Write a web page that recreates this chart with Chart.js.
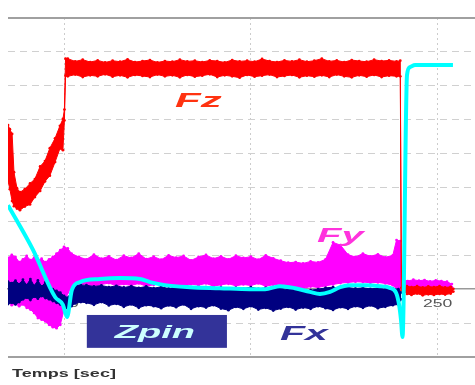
<!DOCTYPE html>
<html>
<head>
<meta charset="utf-8">
<script src="https://cdn.jsdelivr.net/npm/chart.js@4.4.1/dist/chart.umd.min.js"></script>
<style>
  html, body { margin: 0; padding: 0; background: #fff; }
</style>
</head>
<body>
<canvas id="forceChart" width="475" height="385"></canvas>
<script>
// axis setup (time in sec, force in grid units)
const axisTitle = 'Temps [sec]';
const timeRange = [135, 260];
const forceRange = [-2, 8];
const timeStep = 50;

// Fz (red) - upper / lower edge of the noisy band
const fzTime = [135, 135.5, 136.1, 136.6, 137.4, 138.2, 139.5, 140.9, 142.2, 143.6, 144.9, 146.2, 147.6, 148.9, 149.7, 150.1, 150.4,
  151, 153, 155, 157, 159, 161, 163, 165, 167, 169, 171, 173, 175, 177, 179, 181, 183, 185, 187, 189, 191, 193, 195, 197, 199,
  201, 203, 205, 207, 209, 211, 213, 215, 217, 219, 221, 223, 225, 227, 229, 231, 233, 235, 237, 239,
  240.0, 240.3, 241, 241.8, 243, 244.5, 246, 247.5, 249, 250.5, 252, 253.5, 254.2];
const fzHigh = [4.84, 4.72, 4.58, 3.45, 2.98, 2.86, 2.95, 3.12, 3.25, 3.62, 3.78, 4.16, 4.45, 4.82, 5.02, 5.30, 6.80,
  6.80, 6.72, 6.77, 6.70, 6.75, 6.69, 6.74, 6.71, 6.78, 6.70, 6.73, 6.76, 6.69, 6.73, 6.71, 6.77, 6.72, 6.74, 6.70, 6.75,
  6.73, 6.69, 6.76, 6.72, 6.74, 6.71, 6.79, 6.73, 6.70, 6.75, 6.72, 6.77, 6.71, 6.74, 6.80, 6.72, 6.75, 6.70, 6.76, 6.73,
  6.71, 6.77, 6.73, 6.75, 6.72,
  6.74, 0.04, 0.03, 0.09, 0.06, 0.09, 0.05, 0.08, 0.06, 0.09, 0.05, 0.07, 0.01];
const fzLow = [3.20, 2.95, 2.60, 2.45, 2.38, 2.33, 2.44, 2.50, 2.72, 2.90, 3.18, 3.35, 3.75, 4.15, 4.10, 4.98, 6.30,
  6.28, 6.33, 6.26, 6.31, 6.28, 6.34, 6.27, 6.31, 6.25, 6.32, 6.29, 6.26, 6.33, 6.28, 6.31, 6.25, 6.32, 6.27, 6.30, 6.34,
  6.26, 6.31, 6.28, 6.24, 6.32, 6.27, 6.30, 6.33, 6.26, 6.29, 6.32, 6.25, 6.30, 6.27, 6.31, 6.26, 6.33, 6.28, 6.25, 6.31,
  6.27, 6.32, 6.26, 6.30, 6.28,
  6.28, -0.04, -0.05, -0.14, -0.17, -0.13, -0.18, -0.15, -0.17, -0.14, -0.16, -0.13, -0.07];

// Fy (magenta)
const fyTime = [135, 136, 137, 138, 139, 140, 141, 142, 143, 144, 145, 146, 147, 148, 149, 150, 151, 152,
  154, 156, 158, 160, 162, 164, 166, 168, 170, 172, 174, 176, 178, 180, 182, 184, 186, 188, 190, 192, 194, 196,
  198, 200, 202, 204, 206, 208, 210, 212, 214, 216, 218, 220, 222, 224, 226, 228, 230, 232, 234, 236, 238,
  239, 240, 240.3, 242, 243.5, 245, 246.5, 248, 249.5, 251, 252.5, 253.8];
const fyHigh = [0.92, 1.01, 0.95, 0.80, 0.88, 0.98, 0.86, 0.93, 0.84, 0.90, 0.80, 0.88, 0.95, 1.05, 1.15, 1.25, 1.20, 1.05,
  0.95, 0.88, 1.02, 0.90, 0.97, 0.86, 0.99, 0.92, 1.05, 0.89, 0.96, 0.87, 1.00, 0.93, 0.98, 0.85, 0.95, 1.01, 0.90, 0.97,
  0.88, 0.99, 0.92, 0.96, 0.87, 1.00, 0.91, 0.84, 0.78, 0.80, 0.76, 0.82, 0.79, 0.88, 1.38, 1.30, 1.02, 0.95, 1.05, 0.97,
  1.03, 0.94, 1.00,
  1.45, 1.42, 0.30, 0.24, 0.28, 0.25, 0.27, 0.23, 0.26, 0.24, 0.22, 0.15];
const fyLow = [-0.38, -0.47, -0.44, -0.50, -0.45, -0.55, -0.60, -0.70, -0.85, -0.90, -0.95, -1.05, -1.12, -1.15, -1.05, -0.60, -0.10, 0.00,
  0.12, 0.16, 0.09, 0.14, 0.18, 0.10, 0.15, 0.11, 0.17, 0.09, 0.13, 0.16, 0.10, 0.14, 0.08, 0.15, 0.12, 0.17, 0.09, 0.13,
  0.16, 0.10, 0.14, 0.11, 0.17, 0.09, 0.13, 0.15, 0.10, 0.06, 0.02, 0.08, 0.05, 0.10, 0.14, 0.18, 0.20, 0.22, 0.21, 0.19,
  0.20, 0.17, 0.12,
  0.00, 0.00, 0.10, 0.05, 0.03, 0.06, 0.02, 0.05, 0.03, 0.04, 0.05, 0.06];

// Fx (navy)
const fxTime = [135, 136, 137, 138, 139, 140, 141, 142, 143, 144, 145, 146, 147, 148, 149, 150, 151, 152, 153, 154.5,
  156, 158, 160, 162, 164, 166, 168, 170, 172, 174, 176, 178, 180, 182, 184, 186, 188, 190, 192, 194,
  196, 198, 200, 202, 204, 206, 208, 210, 212, 214, 216, 218, 220, 222, 224, 226, 228, 230, 232, 234, 236, 238,
  239.5, 240.2];
const fxHigh = [0.22, 0.18, 0.25, 0.15, 0.28, 0.12, 0.30, 0.10, 0.26, 0.08, 0.20, 0.05, 0.00, -0.05, -0.10, -0.20, -0.25, -0.05, 0.10, 0.12,
  0.12, 0.08, 0.11, 0.06, 0.10, 0.05, 0.09, 0.04, 0.08, 0.03, 0.07, 0.02, 0.06, 0.01, 0.05, 0.03, 0.06, 0.02, 0.05, 0.00,
  0.04, 0.02, 0.06, 0.01, 0.04, 0.00, 0.03, -0.02, 0.02, -0.05, -0.03, 0.00, 0.04, 0.06, 0.03, 0.05, 0.02, 0.04, 0.01, 0.03,
  0.00, 0.02,
  0.00, -0.10];
const fxLow = [-0.44, -0.40, -0.45, -0.38, -0.30, -0.25, -0.32, -0.22, -0.28, -0.20, -0.26, -0.30, -0.35, -0.40, -0.45, -0.55, -0.58, -0.50, -0.42, -0.38,
  -0.40, -0.46, -0.38, -0.48, -0.43, -0.52, -0.45, -0.55, -0.47, -0.50, -0.56, -0.48, -0.53, -0.45, -0.58, -0.50, -0.54, -0.47, -0.57, -0.62,
  -0.52, -0.58, -0.50, -0.60, -0.55, -0.63, -0.57, -0.52, -0.60, -0.54, -0.58, -0.50, -0.56, -0.61, -0.53, -0.58, -0.50, -0.55, -0.48, -0.56,
  -0.52, -0.47,
  -0.45, -0.30];

// Zpin (cyan)
const zpinTime = [135, 141.7, 147.6, 149.7, 150.8, 152.1, 154.3, 159.6, 165, 170.3, 173, 177, 183.7, 191.7, 199.8, 203.8,
  207.8, 211.8, 215.8, 218.5, 221.2, 223.9, 226.5, 230.6, 234.6, 237.2, 238.9, 239.7, 240.2, 240.6, 241.8, 242.6, 244, 254.1];
const zpinValue = [2.48, 1.16, -0.23, -0.46, -0.82, -0.02, 0.21, 0.30, 0.33, 0.30, 0.21, 0.12, 0.06, 0.03, 0.00, 0.00,
  0.09, 0.03, -0.08, -0.14, -0.08, 0.06, 0.12, 0.12, 0.09, 0.04, -0.11, -0.47, -0.91, -1.41, 6.32, 6.55, 6.61, 6.61];

function toPoints(times, vals) {
  return times.map((t, i) => ({ x: t, y: vals[i] }));
}

function bandEdge(label, times, vals, color, fill) {
  return {
    label: label,
    data: toPoints(times, vals),
    borderColor: color,
    backgroundColor: color,
    borderWidth: 1,
    pointRadius: 1.4,
    pointBorderWidth: 0,
    pointBackgroundColor: color,
    fill: fill,
  };
}

// draws text squeezed out wide, like the source picture
function wideText(ctx, text, px, py, font, color, sx) {
  ctx.save();
  ctx.translate(px, py);
  ctx.scale(sx, 1);
  ctx.font = font;
  ctx.fillStyle = color;
  ctx.textBaseline = 'alphabetic';
  ctx.fillText(text, 0, 0);
  ctx.restore();
}

// x tick labels go under the data, like the source
const tickLabelPlugin = {
  id: 'tickLabels',
  beforeDatasetsDraw(chart) {
    const { ctx, scales: { x, y } } = chart;
    const axisY = y.getPixelForValue(0);
    ctx.save();
    ctx.font = '11px "Liberation Sans"';
    x.ticks.forEach(tk => {
      const label = String(tk.value);
      const w = ctx.measureText(label).width * 1.6;
      wideText(ctx, label, x.getPixelForValue(tk.value) - w / 2, axisY + 18, '11px "Liberation Sans"', '#555', 1.6);
    });
    ctx.restore();
  }
};

const labelPlugin = {
  id: 'seriesLabels',
  afterDatasetsDraw(chart) {
    const { ctx, scales: { x, y } } = chart;
    // Zpin box
    const bx0 = x.getPixelForValue(156.1), bx1 = x.getPixelForValue(193.6);
    const by0 = y.getPixelForValue(-0.76), by1 = y.getPixelForValue(-1.73);
    ctx.save();
    ctx.fillStyle = '#333399';
    ctx.fillRect(bx0, by0, bx1 - bx0, by1 - by0);
    ctx.restore();
    wideText(ctx, 'Zpin', x.getPixelForValue(163.6), y.getPixelForValue(-1.44), 'italic bold 19px "Liberation Sans"', '#ccffff', 2.0);
    wideText(ctx, 'Fz', x.getPixelForValue(179.7), y.getPixelForValue(5.37), 'italic bold 21px "Liberation Sans"', '#ff3311', 2.0);
    wideText(ctx, 'Fy', x.getPixelForValue(217.7), y.getPixelForValue(1.39), 'italic bold 20px "Liberation Sans"', '#ff33dd', 2.0);
    wideText(ctx, 'Fx', x.getPixelForValue(207.8), y.getPixelForValue(-1.50), 'italic bold 21px "Liberation Sans"', '#333399', 1.95);
  },
  afterDraw(chart) {
    wideText(chart.ctx, axisTitle, 12, 377, 'bold 11px "Liberation Sans"', '#333', 1.64);
  }
};

const isFrame = v => v === forceRange[0] || v === forceRange[1];

const ctx = document.getElementById('forceChart').getContext('2d');
const forceChart = new Chart(ctx, {
  type: 'line',
  data: {
    datasets: [
      {
        label: 'Zpin',
        data: toPoints(zpinTime, zpinValue),
        borderColor: '#00ffff',
        borderWidth: 4,
        pointRadius: 0,
        cubicInterpolationMode: 'monotone',
        fill: false,
      },
      bandEdge('Fx', fxTime, fxHigh, '#000080', '+1'),
      bandEdge('Fx low', fxTime, fxLow, '#000080', false),
      bandEdge('Fz', fzTime, fzHigh, '#ff0000', '+1'),
      bandEdge('Fz low', fzTime, fzLow, '#ff0000', false),
      bandEdge('Fy', fyTime, fyHigh, '#ff00ff', '+1'),
      bandEdge('Fy low', fyTime, fyLow, '#ff00ff', false),
    ],
  },
  options: {
    responsive: false,
    devicePixelRatio: 1,
    animation: false,
    layout: { autoPadding: false, padding: { left: 8, right: 0, top: 18, bottom: 28 } },
    plugins: {
      legend: { display: false },
      tooltip: { enabled: false },
    },
    scales: {
      x: {
        type: 'linear',
        min: timeRange[0],
        max: timeRange[1],
        position: { y: 0 },
        ticks: { display: false, stepSize: timeStep, includeBounds: false },
        grid: { drawTicks: false, color: '#cccccc', lineWidth: 1 },
        border: { display: true, color: '#999999', width: 1.5, dash: [2, 3] },
      },
      y: {
        min: forceRange[0],
        max: forceRange[1],
        ticks: { display: false, stepSize: 1 },
        grid: {
          drawTicks: false,
          color: c => isFrame(c.tick.value) ? '#a0a0a0' : (c.tick.value === 0 ? 'rgba(0,0,0,0)' : '#d0d0d0'),
          lineWidth: c => isFrame(c.tick.value) ? 2 : 1,
        },
        border: { display: false, dash: c => isFrame(c.tick.value) ? [] : [7, 5] },
      },
    },
  },
  plugins: [tickLabelPlugin, labelPlugin],
});
</script>
</body>
</html>
